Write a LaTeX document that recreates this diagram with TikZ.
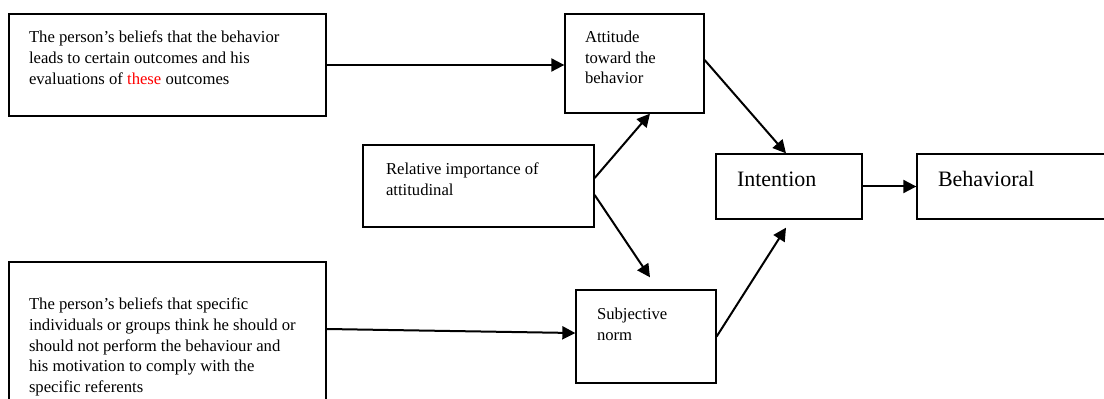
\documentclass[tikz,border=0pt]{standalone}
\usepackage{fontspec}
\setmainfont{Liberation Serif}
\usetikzlibrary{arrows.meta,positioning}
\tikzset{
	box/.style={draw, line width=1pt, inner sep=0pt},
	txt/.style={anchor=north west, inner sep=0pt, align=left, font=\fontsize{12.5}{15.5}\selectfont},
	bigtxt/.style={anchor=base west, inner sep=0pt, font=\fontsize{16.5}{20}\selectfont}
}
\begin{document}
\begin{tikzpicture}[x=0.75pt, y=-0.75pt, >={Triangle[length=9.75pt,width=9.75pt]}, line width=1.5pt]
\path[use as bounding box] (0,0) rectangle (1104,399);
\clip (0,0) rectangle (1104,399);

% boxes
\node[box, minimum width=237.75pt, minimum height=76.5pt] (beliefs) at (167.5,65) {};
\node[box, minimum width=104.25pt, minimum height=74.25pt] (attitude) at (634.5,63.5) {};
\node[box, minimum width=173.25pt, minimum height=61.5pt] (relative) at (478.5,186) {};
\node[box, minimum width=109.5pt, minimum height=48.75pt] (intention) at (789,186.5) {};
\node[box, minimum width=146.25pt, minimum height=48.75pt] (behavioral) at (1014.5,186.5) {};
\node[box, minimum width=105pt, minimum height=69.75pt] (subjective) at (646,336.5) {};
\node[box, minimum width=237.75pt, minimum height=111pt] (referents) at (167.5,336) {};

% texts
\node[txt] (beliefs-txt) at (28,30) {The person's beliefs that the behavior\\leads to certain outcomes and his\\evaluations of \textcolor{red}{these} outcomes};
\node[txt] (attitude-txt) at (584,30) {Attitude\\toward the\\behavior};
\node[txt] (relative-txt) at (385,162) {Relative importance of\\attitudinal};
\node[txt] (subjective-txt) at (596,307) {Subjective\\norm};
\node[txt] (referents-txt) at (28,297) {The person's beliefs that specific\\individuals or groups think he should or\\should not perform the behaviour and\\his motivation to comply with the\\specific referents};
\node[bigtxt] (intention-txt) at (736,187) {Intention};
\node[bigtxt] (behavioral-txt) at (937,187) {Behavioral};

% arrows
\draw[->] (beliefs.east) -- (beliefs.east -| attitude.west);
\draw[->] ([yshift=6pt]relative.east) -- ([xshift=11.6pt]attitude.south);
\draw[->] ([yshift=-6.75pt]relative.east) -- ([xshift=3pt,yshift=9pt]subjective.north);
\draw[->] ([yshift=2.6pt]attitude.east) -- ([xshift=-2.25pt]intention.north);
\draw[->] (subjective.east) -- ([xshift=-2.25pt,yshift=-6pt]intention.south);
\draw[->] (intention.east) -- (behavioral.west);
\draw[->] ([yshift=5.25pt]referents.east) -- ([yshift=2.6pt]subjective.west);
\end{tikzpicture}
\end{document}
